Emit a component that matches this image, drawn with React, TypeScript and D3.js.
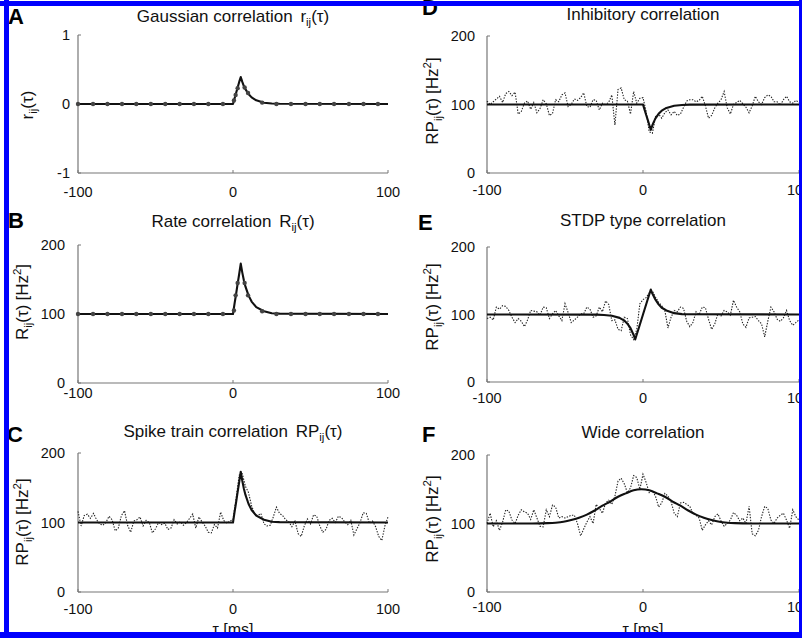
import React from 'react';
import * as d3 from 'd3';

// ---------- data ----------
const xTicks = [-100, 0, 100];
const yTicksGauss = [-1, 0, 1];
const yTicksRate = [0, 100, 200];

// sampling grid (ms) of the measured spike-train correlograms
const noiseTau = d3.range(-100, 101, 2);

// Fitted / model curves
const peakTau = [-100, 0, 1, 2, 3, 4, 5, 6, 7, 8, 10, 12, 15, 20, 25, 30, 100];
const gaussFit = [0, 0, 0.08, 0.16, 0.24, 0.32, 0.39, 0.32, 0.26, 0.215, 0.145, 0.096, 0.053, 0.019, 0.007, 0.003, 0];
const rateFit = [100, 100, 115, 129, 144, 158, 173, 160, 149, 140, 127, 118, 110, 104, 101, 100.5, 100];
const inhibFit = [100, 100, 92.6, 85, 78, 70.5, 63, 69.7, 75, 79.7, 86.4, 91, 95, 98.2, 99.3, 99.8, 100];

const stdpTau = [-100, -30, -25, -20, -15, -12, -10, -8, -6, -5, 0, 5, 6, 8, 10, 12, 15, 20, 25, 100];
const stdpFit = [100, 99.8, 99.3, 98.2, 95, 91, 86.4, 79.7, 69.7, 63, 100, 137, 131, 122, 115, 110, 106, 102, 100.5, 100];

const wideTau = [-100, -71, -61, -56, -51, -46, -41, -36, -31, -26, -21, -16, -11, -6, -1, 4, 9, 14, 19, 24, 29, 34, 39, 44, 49, 54, 59, 69, 100];
const wideFit = [100, 100, 100.5, 101.2, 102.5, 105, 108.5, 113, 119, 126, 132, 139, 144, 148.5, 150, 148.5, 144, 139, 132, 126, 119, 113, 108.5, 105, 102.5, 101.2, 100.5, 100, 100];

// markers on panels A and B
const markerTau = [-100, -90.3, -81, -71.6, -62.4, -53, -43.7, -34.4, -25.2, -15.9, -6.5, 0.6, 1.7, 3, 7.5, 9.7, 18.8, 28, 37.4, 46.8, 56, 65.2, 74.8, 84.2, 93.5];
const markerGauss = [0, 0, 0, 0, 0, 0, 0, 0, 0, 0, 0, 0.05, 0.13, 0.23, 0.24, 0.16, 0.02, 0, 0, 0, 0, 0, 0, 0, 0];
const markerRate = [100, 100, 100, 100, 100, 100, 100, 100, 100, 100, 100, 105, 127, 145, 145, 127, 104, 100, 100, 100, 100, 100, 100, 100, 100];

// measured (noisy) correlograms, tau = -100..100 step 2
const noiseC = [
  116, 95, 110, 112, 106, 113, 104, 98, 96, 100,
  109, 104, 88, 92, 110, 117, 96, 86, 102, 104,
  108, 95, 103, 100, 85, 91, 100, 97, 99, 90,
  92, 104, 98, 101, 96, 100, 106, 112, 92, 108,
  101, 95, 86, 85, 97, 92, 115, 103, 99, 102,
  104, 135, 168, 170, 152, 143, 124, 112, 110, 113,
  98, 95, 96, 108, 122, 113, 110, 104, 101, 94,
  102, 84, 80, 95, 105, 98, 111, 109, 95, 86,
  90, 103, 106, 100, 109, 107, 101, 97, 103, 82,
  91, 100, 114, 113, 99, 102, 94, 80, 74, 95,
  108,
];
const noiseD = [
  105, 100, 104, 108, 112, 103, 116, 119, 113, 118,
  86, 90, 102, 105, 93, 103, 88, 94, 107, 101,
  84, 87, 107, 104, 114, 117, 97, 100, 108, 106,
  110, 117, 97, 96, 107, 106, 92, 102, 100, 103,
  114, 70, 122, 124, 107, 105, 86, 119, 102, 109,
  110, 90, 60, 58, 82, 86, 80, 88, 92, 85,
  90, 84, 86, 96, 105, 107, 107, 104, 106, 112,
  98, 80, 84, 95, 102, 107, 119, 95, 86, 100,
  103, 106, 101, 96, 88, 98, 112, 104, 100, 110,
  114, 112, 104, 104, 99, 107, 112, 104, 102, 106,
  103,
];
const noiseE = [
  94, 96, 92, 111, 108, 113, 112, 106, 96, 88,
  94, 90, 82, 92, 106, 105, 104, 99, 111, 110,
  94, 101, 106, 98, 91, 116, 103, 88, 92, 96,
  101, 101, 111, 108, 96, 98, 111, 104, 120, 115,
  91, 92, 78, 76, 96, 94, 70, 63, 78, 116,
  122, 125, 132, 135, 126, 118, 113, 106, 80, 96,
  106, 104, 111, 109, 90, 82, 88, 104, 100, 111,
  110, 93, 78, 86, 101, 98, 106, 104, 99, 121,
  111, 104, 86, 81, 95, 96, 97, 91, 86, 67,
  90, 111, 104, 93, 90, 95, 106, 91, 84, 88,
  92,
];
const noiseF = [
  100, 115, 95, 104, 90, 102, 120, 118, 105, 100,
  112, 120, 117, 115, 106, 120, 108, 96, 95, 120,
  110, 127, 124, 108, 110, 108, 110, 112, 112, 100,
  82, 92, 102, 110, 100, 128, 122, 115, 130, 134,
  128, 140, 162, 166, 158, 145, 152, 170, 167, 150,
  172, 160, 145, 148, 140, 124, 130, 144, 140, 132,
  115, 110, 130, 131, 128, 125, 115, 112, 108, 90,
  98, 104, 98, 110, 114, 104, 96, 100, 105, 116,
  112, 104, 108, 100, 125, 85, 82, 90, 110, 125,
  122, 105, 100, 108, 112, 115, 105, 93, 120, 110,
  105,
];

// ---------- drawing ----------
const FONT = '"Liberation Sans", Arial, Helvetica, sans-serif';
const AXIS = '#777';

type Pt = [number, number];
const zipPts = (xs: number[], ys: number[]): Pt[] => xs.map((t, i) => [t, ys[i]] as Pt);

type PanelProps = {
  x0: number; x1: number; yTop: number; yBot: number;
  yDomain: [number, number]; yTicks: number[]; yTickGap: number;
  xLabelY: number;
  letter: string; letterX: number; letterY: number;
  title: React.ReactNode; titleY: number;
  ylabel: React.ReactNode; ylabelX: number; ylabelY: number;
  fit: Pt[]; fitCurve?: d3.CurveFactory;
  noise?: Pt[];
  markers?: Pt[];
  xAxisLabel?: boolean;
};

function Panel(p: PanelProps) {
  const x = d3.scaleLinear().domain([-100, 100]).range([p.x0, p.x1]);
  const y = d3.scaleLinear().domain(p.yDomain).range([p.yBot, p.yTop]);
  const line = d3.line<Pt>().x(d => x(d[0])).y(d => y(d[1]));
  const fitLine = d3.line<Pt>().x(d => x(d[0])).y(d => y(d[1])).curve(p.fitCurve ?? d3.curveLinear);
  const cx = x(0);
  return (
    <g fontFamily={FONT}>
      <text x={p.letterX} y={p.letterY} fontSize={22} fontWeight="bold" fill="#000">{p.letter}</text>
      <text x={cx} y={p.titleY} fontSize={17} textAnchor="middle" fill="#111">{p.title}</text>
      <text transform={`translate(${p.ylabelX},${p.ylabelY}) rotate(-90)`} fontSize={17} textAnchor="middle" fill="#111">{p.ylabel}</text>
      {/* axes */}
      <line x1={p.x0} x2={p.x0} y1={p.yTop} y2={p.yBot} stroke={AXIS} strokeWidth={1.2} />
      <line x1={p.x0} x2={p.x1} y1={p.yBot} y2={p.yBot} stroke={AXIS} strokeWidth={1.2} />
      {p.yTicks.map(t => (
        <g key={'y' + t}>
          <line x1={p.x0} x2={p.x0 + 3} y1={y(t)} y2={y(t)} stroke={AXIS} />
          <text x={p.x0 - p.yTickGap} y={y(t)} dy="0.36em" textAnchor="end" fontSize={14.5} fill="#111">{t}</text>
        </g>
      ))}
      {xTicks.map(t => (
        <g key={'x' + t}>
          <line x1={x(t)} x2={x(t)} y1={p.yBot} y2={p.yBot - 3} stroke={AXIS} />
          <text x={x(t)} y={p.xLabelY} textAnchor="middle" fontSize={14.5} fill="#111">{t}</text>
        </g>
      ))}
      {p.noise && (
        <path d={line(p.noise) ?? ''} fill="none" stroke="#222" strokeWidth={1.1} strokeDasharray="1.4,1.4" />
      )}
      <path d={fitLine(p.fit) ?? ''} fill="none" stroke="#111" strokeWidth={2.1} strokeLinejoin="round" />
      {p.markers && p.markers.map((m, i) => (
        <circle key={i} cx={x(m[0])} cy={y(m[1])} r={2.2} fill="#444" />
      ))}
      {p.xAxisLabel && (
        <text x={cx} y={635} textAnchor="middle" fontSize={16} fill="#111">τ [ms]</text>
      )}
    </g>
  );
}

const sub = (s: string) => <tspan fontSize={11.5} dy={4}>{s}</tspan>;
const hzLabel = (head: string) => (
  <>{head}{sub('ij')}<tspan dy={-4}>(τ)</tspan><tspan dx={4}>[Hz</tspan><tspan fontSize={11.5} dy={-7}>2</tspan><tspan dy={7}>]</tspan></>
);

export default function App() {
  const left = { x0: 78, x1: 388 };
  const right = { x0: 487, x1: 799 };
  return (
    <div style={{ position: 'absolute', left: 0, top: 0 }}>
      <svg width={802} height={638} style={{ display: 'block', background: '#fff' }}>
        <rect x={0} y={0} width={802} height={638} fill="#fff" />
        <Panel {...left} yTop={35} yBot={173} yDomain={[-1, 1]} yTicks={yTicksGauss} yTickGap={8} xLabelY={197}
          letter="A" letterX={8} letterY={24}
          title={<>Gaussian correlation <tspan dx={3}>r</tspan>{sub('ij')}<tspan dy={-4}>(τ)</tspan></>} titleY={22}
          ylabel={<>r{sub('ij')}<tspan dy={-4}>(τ)</tspan></>} ylabelX={33} ylabelY={105}
          fit={zipPts(peakTau, gaussFit)} markers={zipPts(markerTau, markerGauss)} />
        <Panel {...left} yTop={245} yBot={383} yDomain={[0, 200]} yTicks={yTicksRate} yTickGap={13} xLabelY={398}
          letter="B" letterX={8} letterY={228}
          title={<>Rate correlation <tspan dx={3}>R</tspan>{sub('ij')}<tspan dy={-4}>(τ)</tspan></>} titleY={227}
          ylabel={hzLabel('R')} ylabelX={28} ylabelY={302}
          fit={zipPts(peakTau, rateFit)} markers={zipPts(markerTau, markerRate)} />
        <Panel {...left} yTop={453} yBot={592} yDomain={[0, 200]} yTicks={yTicksRate} yTickGap={13} xLabelY={614}
          letter="C" letterX={7} letterY={442}
          title={<>Spike train correlation <tspan dx={3}>RP</tspan>{sub('ij')}<tspan dy={-4}>(τ)</tspan></>} titleY={437}
          ylabel={hzLabel('RP')} ylabelX={28} ylabelY={522}
          fit={zipPts(peakTau, rateFit)} noise={zipPts(noiseTau, noiseC)} xAxisLabel />
        <Panel {...right} yTop={36} yBot={173} yDomain={[0, 200]} yTicks={yTicksRate} yTickGap={12} xLabelY={195}
          letter="D" letterX={422} letterY={15}
          title={<>Inhibitory correlation</>} titleY={20}
          ylabel={hzLabel('RP')} ylabelX={438} ylabelY={101}
          fit={zipPts(peakTau, inhibFit)} noise={zipPts(noiseTau, noiseD)} />
        <Panel {...right} yTop={247} yBot={382} yDomain={[0, 200]} yTicks={yTicksRate} yTickGap={12} xLabelY={403}
          letter="E" letterX={418} letterY={230}
          title={<>STDP type correlation</>} titleY={226}
          ylabel={hzLabel('RP')} ylabelX={438} ylabelY={307}
          fit={zipPts(stdpTau, stdpFit)} noise={zipPts(noiseTau, noiseE)} />
        <Panel {...right} yTop={455} yBot={592} yDomain={[0, 200]} yTicks={yTicksRate} yTickGap={12} xLabelY={612}
          letter="F" letterX={422} letterY={442}
          title={<>Wide correlation</>} titleY={438}
          ylabel={hzLabel('RP')} ylabelX={438} ylabelY={519}
          fit={zipPts(wideTau, wideFit)} fitCurve={d3.curveMonotoneX} noise={zipPts(noiseTau, noiseF)} xAxisLabel />
        {/* blue frame */}
        <rect x={0} y={1} width={802} height={5} fill="#0000fe" />
        <rect x={4} y={0} width={5} height={638} fill="#0000fe" />
        <rect x={799} y={0} width={3} height={638} fill="#0000fe" />
        <rect x={0} y={632} width={802} height={6} fill="#0000fe" />
      </svg>
    </div>
  );
}
